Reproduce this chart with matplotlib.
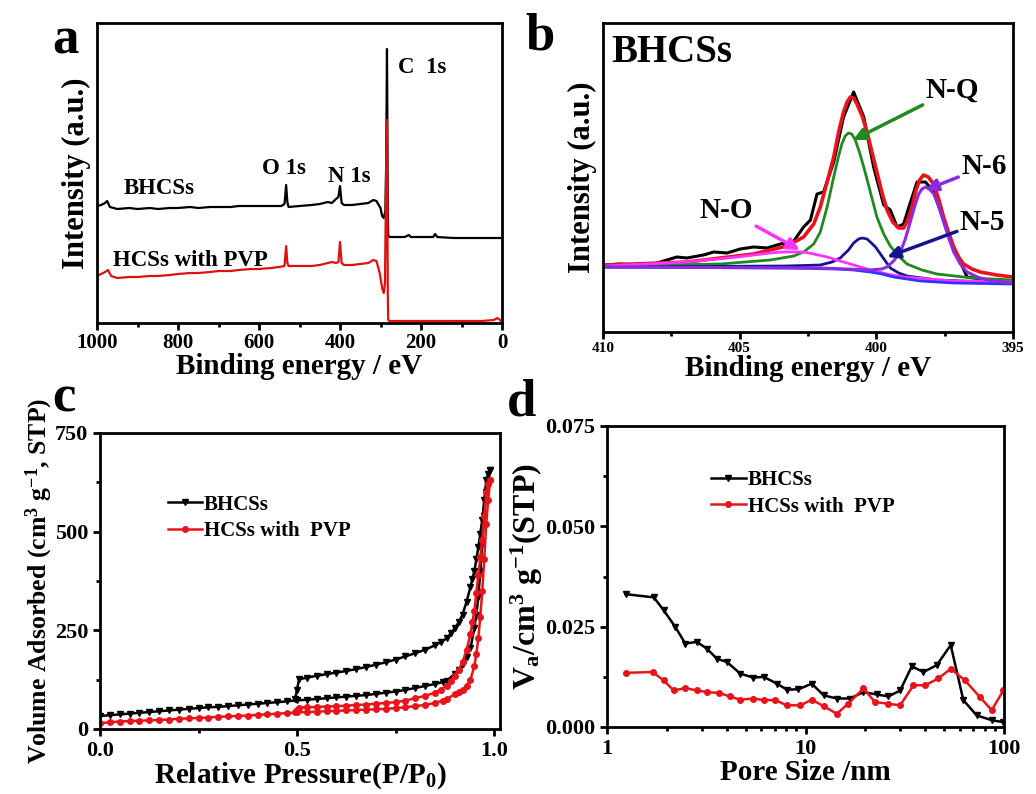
import matplotlib
matplotlib.use("Agg")
import matplotlib.pyplot as plt
from matplotlib.ticker import MultipleLocator, FixedLocator, LogLocator, NullFormatter

plt.rcParams['font.family'] = ['Liberation Serif', 'DejaVu Serif']
plt.rcParams['font.weight'] = 'bold'
plt.rcParams['axes.labelweight'] = 'bold'
plt.rcParams['mathtext.fontset'] = 'custom'
plt.rcParams['mathtext.rm'] = 'Liberation Serif:bold'
plt.rcParams['mathtext.it'] = 'Liberation Serif:bold:italic'
plt.rcParams['mathtext.bf'] = 'Liberation Serif:bold'

# ---------------- Panel a: XPS survey ----------------
a_be_black = [1000, 990, 980, 975, 968, 950, 920, 900, 870, 850, 820, 800, 770, 750, 720, 700, 670, 650, 620, 600,
              570, 545, 537, 533, 530, 527, 500, 470, 450, 430, 420, 410, 404, 400, 396, 390, 370, 350, 330, 318,
              310, 300, 296, 292, 288, 286, 284, 283, 282, 281, 278, 260, 240, 230, 225, 200, 170, 165, 160, 120,
              80, 40, 5]
a_int_black = [117, 118, 120, 122, 116, 114, 115, 114, 115, 114, 115, 115, 116, 115, 116, 116, 116, 117, 117, 117,
               117, 117, 119, 138, 121, 116, 117, 118, 119, 121, 120, 124, 126, 137, 120, 118, 118, 119, 120, 123,
               122, 115, 107, 105, 112, 160, 274, 200, 110, 88, 86, 86, 86, 88, 86, 86, 86, 89, 86, 85,
               85, 85, 85]
a_be_red = [1000, 990, 980, 973, 965, 950, 920, 900, 870, 850, 820, 800, 770, 750, 720, 700, 670, 650, 620, 600,
            570, 550, 537, 533, 530, 527, 500, 470, 450, 430, 420, 410, 404, 400, 396, 390, 370, 350, 330, 318,
            310, 302, 296, 292, 289, 286, 284, 283, 282, 281, 278, 250, 200, 150, 100, 50, 20, 12, 5, 2]
a_int_red = [47, 49, 51, 53, 47, 45, 46, 46, 47, 47, 48, 49, 50, 50, 51, 52, 52, 53, 54, 54,
             55, 56, 57, 77, 60, 57, 57, 57, 58, 60, 61, 60, 61, 81, 60, 58, 58, 59, 60, 63,
             62, 50, 35, 30, 40, 150, 203, 120, 30, 3, 2, 2, 2, 2, 2, 2, 3, 5, 3, 2]

# ---------------- Panel b: N 1s high resolution ----------------
b_be_raw = [409.91, 409.37, 408.76, 408.15, 407.66, 407.30, 406.93, 406.32, 405.95, 405.46, 404.98, 404.49, 404.00,
            403.51, 403.02, 402.66, 402.41, 402.17, 401.93, 401.56, 401.20, 400.83, 400.46, 400.10, 399.73, 399.49,
            399.24, 399.00, 398.82, 398.51, 398.20, 397.90, 397.54, 397.17, 396.68, 395.95, 395.00]
b_int_raw = [67, 68, 67, 68, 72, 75, 74, 77, 80, 79, 83, 85, 84, 88, 91, 105, 112, 138, 140, 170, 215, 240, 215, 165,
             127, 122, 105, 108, 124, 150, 150, 140, 112, 85, 55, 52, 50]
b_be_fit = [409.91, 406.93, 404.49, 403.27, 402.66, 402.29, 402.05, 401.80, 401.56, 401.38, 401.20, 401.07, 400.95,
            400.83, 400.71, 400.52, 400.34, 400.16, 399.98, 399.80, 399.61, 399.40, 399.18, 399.00, 398.88, 398.70,
            398.57, 398.42, 398.27, 398.10, 397.90, 397.72, 397.54, 397.35, 397.17, 396.99, 396.81, 396.50, 396.20,
            395.60, 395.00]
b_int_fit = [67, 70, 78, 86, 95, 108, 125, 150, 175, 200, 220, 230, 235, 234, 228, 216, 200, 180, 160, 140, 122, 110,
             104, 104, 110, 124, 140, 152, 157, 155, 148, 133, 115, 99, 85, 75, 68, 63, 60, 57, 55]
b_be_nq = [409.91, 405.71, 403.88, 403.02, 402.66, 402.29, 402.05, 401.80, 401.56, 401.38, 401.26, 401.14, 401.02,
           400.90, 400.77, 400.62, 400.46, 400.22, 399.98, 399.73, 399.49, 399.18, 398.88, 398.33, 397.78, 396.50,
           395.00]
b_int_nq = [66, 68, 72, 76, 80, 88, 100, 125, 155, 176, 188, 196, 199, 198, 192, 180, 165, 140, 115, 98, 86, 76, 68,
            62, 58, 54, 52]
b_be_n5 = [409.91, 403.27, 402.05, 401.62, 401.32, 401.02, 400.83, 400.65, 400.52, 400.34, 400.22, 400.03, 399.85,
           399.67, 399.49, 399.18, 398.88, 398.33, 397.78, 395.00]
b_int_n5 = [65, 66, 67, 70, 74, 82, 89, 93, 94, 93, 90, 85, 78, 71, 64, 59, 56, 54, 52, 49]
b_be_n6 = [409.91, 402.05, 400.22, 399.80, 399.61, 399.37, 399.12, 398.94, 398.76, 398.57, 398.45, 398.33, 398.20,
           398.06, 397.90, 397.72, 397.54, 397.35, 397.17, 396.93, 396.68, 396.30, 395.95, 395.00]
b_int_n6 = [65, 64, 62, 63, 65, 71, 80, 93, 110, 128, 138, 143, 145, 143, 138, 126, 110, 94, 80, 68, 60, 55, 52, 49]
b_be_no = [409.91, 406.93, 405.10, 404.49, 403.88, 403.45, 403.02, 402.66, 402.29, 401.80, 401.44, 400.83, 400.22,
           399.61, 399.00, 398.10, 397.17, 395.00]
b_int_no = [66, 70, 75, 77, 79, 80, 80, 80, 78, 75, 72, 67, 62, 58, 55, 53, 51, 50]
b_be_bg = [409.91, 403.27, 401.44, 400.83, 400.22, 399.80, 399.37, 398.88, 398.39, 397.78, 397.17, 395.00]
b_int_bg = [65, 64, 63, 62, 60, 58, 55, 53, 51, 50, 49, 48]

# ---------------- Panel c: N2 isotherms ----------------
c_p_ads = [0.0, 0.025, 0.05, 0.075, 0.1, 0.125, 0.15, 0.175, 0.2, 0.225, 0.25, 0.275, 0.3, 0.325, 0.35, 0.375,
           0.4, 0.425, 0.45, 0.475, 0.5, 0.525, 0.55, 0.575, 0.6, 0.625, 0.65, 0.675, 0.7, 0.725, 0.75, 0.775,
           0.8, 0.825, 0.85, 0.87, 0.88, 0.9, 0.91, 0.92, 0.93, 0.94, 0.95, 0.955, 0.96, 0.965, 0.97, 0.975,
           0.98, 0.985, 0.99]
c_bhcs_ads = [33, 35, 37, 39, 41, 43, 45, 47, 49, 51, 53, 55, 56, 58, 60, 62, 64, 66, 68, 70, 73, 74, 76, 78, 80,
              82, 84, 86, 89, 92, 95, 99, 104, 109, 114, 119, 122, 140, 150, 165, 183, 205, 255, 290, 335, 400,
              470, 540, 600, 630, 655]
c_pvp_ads = [15, 17, 19, 20, 21, 22, 23, 24, 26, 27, 28, 29, 31, 32, 33, 34, 36, 37, 39, 40, 42, 43, 44, 45, 46,
             47, 48, 49, 50, 51, 53, 55, 58, 61, 66, 72, 76, 88, 94, 100, 110, 125, 160, 190, 230, 285, 350, 430,
             520, 580, 630]
c_p_des = [0.99, 0.985, 0.98, 0.975, 0.97, 0.965, 0.96, 0.955, 0.95, 0.945, 0.94, 0.93, 0.92, 0.91, 0.9, 0.89,
           0.88, 0.865, 0.85, 0.825, 0.8, 0.775, 0.75, 0.725, 0.7, 0.675, 0.65, 0.625, 0.6, 0.575, 0.55, 0.525,
           0.505, 0.5, 0.495]
c_bhcs_des = [655, 645, 630, 580, 530, 495, 460, 430, 400, 380, 360, 322, 290, 270, 255, 242, 230, 220, 212, 201,
              192, 184, 176, 169, 163, 157, 152, 147, 143, 139, 135, 130, 126, 100, 75]
c_pvp_des = [630, 620, 600, 540, 480, 435, 390, 345, 300, 270, 240, 200, 170, 150, 135, 122, 110, 100, 92, 84,
             78, 72, 68, 66, 64, 62, 61, 59, 58, 57, 56, 55, 54, 48, 43]

# ---------------- Panel d: pore size distribution ----------------
d_size_bhcs = [1.24, 1.72, 1.93, 2.21, 2.48, 2.84, 3.19, 3.58, 4.02, 4.69, 5.47, 6.15, 7.18, 8.06, 9.22, 10.76,
               12.33, 14.38, 16.79, 19.59, 22.85, 26.17, 29.97, 34.3, 39.3, 45.8, 53.9, 62.4, 72.8, 86.7, 99.3]
d_va_bhcs = [0.0331, 0.0323, 0.0291, 0.0249, 0.0208, 0.0212, 0.0195, 0.0170, 0.0162, 0.0133, 0.0123, 0.0125,
             0.0108, 0.0093, 0.0094, 0.0108, 0.0079, 0.0071, 0.0071, 0.0087, 0.0081, 0.0076, 0.0091, 0.0151,
             0.0137, 0.0154, 0.0204, 0.0067, 0.0029, 0.0017, 0.0012]
d_size_pvp = [1.24, 1.70, 1.93, 2.17, 2.48, 2.84, 3.19, 3.65, 4.17, 4.69, 5.47, 6.15, 7.04, 8.06, 9.41, 10.76,
              12.33, 14.38, 16.4, 19.59, 22.4, 26.17, 29.97, 35.0, 40.1, 46.7, 53.9, 63.6, 75.5, 86.7, 99.3]
d_va_pvp = [0.0135, 0.0137, 0.0116, 0.0091, 0.0097, 0.0091, 0.0087, 0.0085, 0.0076, 0.0068, 0.0071, 0.0067,
            0.0067, 0.0054, 0.0054, 0.0068, 0.0052, 0.0033, 0.0058, 0.0096, 0.0062, 0.0058, 0.0054, 0.0104,
            0.0104, 0.0121, 0.0145, 0.0116, 0.0075, 0.0042, 0.0091]

W, H = 1036, 794
fig = plt.figure(figsize=(W / 100, H / 100), dpi=100)


def add_ax(l, r, t, b):
    return fig.add_axes([l / W, 1 - b / H, (r - l) / W, (b - t) / H])


def style(ax, lw=2.0):
    for s in ax.spines.values():
        s.set_linewidth(lw)


# ---- a ----
ax = add_ax(97, 502, 23, 323)
style(ax)
ax.plot(a_be_black, a_int_black, color='black', lw=1.6)
ax.plot(a_be_red, a_int_red, color='#e01010', lw=1.6)
ax.set_xlim(1000, 0)
ax.set_ylim(0, 300)
ax.set_yticks([])
ax.xaxis.set_major_locator(MultipleLocator(200))
ax.xaxis.set_minor_locator(MultipleLocator(100))
ax.tick_params(axis='x', which='both', direction='out', width=2, labelsize=15, pad=2)
ax.tick_params(axis='x', which='major', length=5)
ax.tick_params(axis='x', which='minor', length=3)
ax.set_xlabel('Binding energy / eV', fontsize=21, labelpad=0)
ax.set_ylabel('Intensity (a.u.)', fontsize=22, labelpad=4)
ax.text(933, 135, 'BHCSs', fontsize=16.5, va='center')
ax.text(960, 63, 'HCSs with PVP', fontsize=16.5, va='center')
ax.text(593, 154, 'O 1s', fontsize=16.5, va='center')
ax.text(430, 146, 'N 1s', fontsize=16.5, va='center')
ax.text(257, 255, 'C  1s', fontsize=16.5, va='center')

# ---- b ----
ax = add_ax(603, 1013, 23, 332)
style(ax)
ax.plot(b_be_raw, b_int_raw, color='black', lw=2.2)
ax.plot(b_be_fit, b_int_fit, color='#e8141c', lw=2.6)
ax.plot(b_be_nq, b_int_nq, color='#1f8a1f', lw=2.0)
ax.plot(b_be_n5, b_int_n5, color='#14148c', lw=2.0)
ax.plot(b_be_no, b_int_no, color='#ff33ff', lw=2.0)
ax.plot(b_be_bg, b_int_bg, color='#3333ff', lw=2.0)
ax.plot(b_be_n6, b_int_n6, color='#8a2be2', lw=2.2)
ax.set_xlim(410, 395)
ax.set_ylim(0, 309)
ax.set_yticks([])
ax.xaxis.set_major_locator(MultipleLocator(5))
ax.xaxis.set_minor_locator(MultipleLocator(2.5))
ax.tick_params(axis='x', which='both', direction='out', width=2, labelsize=11, pad=2)
ax.tick_params(axis='x', which='major', length=5)
ax.tick_params(axis='x', which='minor', length=3)
ax.set_xlabel('Binding energy / eV', fontsize=21, labelpad=0)
ax.set_ylabel('Intensity (a.u.)', fontsize=22, labelpad=4)
ax.text(409.7, 279, 'BHCSs', fontsize=28, va='center')
arrow_kw = dict(arrowstyle='-|>', lw=2.5, mutation_scale=18, shrinkA=0, shrinkB=0)
ax.annotate('N-Q', xy=(400.85, 192), xytext=(398.2, 242), fontsize=21, va='center', ha='left',
            arrowprops=dict(color='#1f8a1f', **arrow_kw))
ax.annotate('N-6', xy=(398.2, 142), xytext=(396.9, 165), fontsize=21, va='center', ha='left',
            arrowprops=dict(color='#8a2be2', **arrow_kw))
ax.annotate('N-5', xy=(399.6, 75), xytext=(396.95, 110), fontsize=21, va='center', ha='left',
            arrowprops=dict(color='#14148c', **arrow_kw))
ax.annotate('N-O', xy=(402.8, 82), xytext=(404.5, 122), fontsize=21, va='center', ha='right',
            arrowprops=dict(color='#ff33ff', **arrow_kw))

# ---- c ----
ax = add_ax(100, 500, 433, 729)
style(ax)
ax.plot(c_p_ads, c_bhcs_ads, color='black', lw=1.8, marker='v', ms=4, label='BHCSs')
ax.plot(c_p_des, c_bhcs_des, color='black', lw=1.8, marker='v', ms=4)
ax.plot(c_p_ads, c_pvp_ads, color='#e8141c', lw=1.8, marker='o', ms=4, label='HCSs with  PVP')
ax.plot(c_p_des, c_pvp_des, color='#e8141c', lw=1.8, marker='o', ms=4)
ax.set_xlim(0, 1.015)
ax.set_ylim(0, 750)
ax.xaxis.set_major_locator(FixedLocator([0.0, 0.5, 1.0]))
ax.xaxis.set_minor_locator(FixedLocator([0.25, 0.75]))
ax.yaxis.set_major_locator(MultipleLocator(250))
ax.yaxis.set_minor_locator(MultipleLocator(125))
ax.xaxis.set_major_formatter(matplotlib.ticker.FormatStrFormatter('%.1f'))
ax.tick_params(which='both', direction='out', width=2, labelsize=16)
ax.tick_params(which='major', length=5)
ax.tick_params(which='minor', length=3)
ax.set_xlabel('Relative Pressure(P/P$_0$)', fontsize=21, labelpad=0)
ax.set_ylabel('Volume Adsorbed (cm$^3$ g$^{-1}$, STP)', fontsize=18.5, labelpad=0)
ax.legend(loc='upper left', bbox_to_anchor=(0.15, 0.82), frameon=False, fontsize=15, handlelength=1.6,
          handletextpad=0.1, labelspacing=0.3, borderaxespad=0)

# ---- d ----
ax = add_ax(607, 1004, 426, 727)
style(ax)
ax.plot(d_size_bhcs, d_va_bhcs, color='black', lw=1.8, marker='v', ms=4, label='BHCSs')
ax.plot(d_size_pvp, d_va_pvp, color='#e8141c', lw=1.8, marker='o', ms=4, label='HCSs with  PVP')
ax.set_xscale('log')
ax.set_xlim(1, 100)
ax.set_ylim(0, 0.075)
ax.xaxis.set_major_locator(FixedLocator([1, 10, 100]))
ax.xaxis.set_major_formatter(matplotlib.ticker.FixedFormatter(['1', '10', '100']))
ax.xaxis.set_minor_locator(LogLocator(base=10, subs=range(2, 10)))
ax.xaxis.set_minor_formatter(NullFormatter())
ax.yaxis.set_major_locator(MultipleLocator(0.025))
ax.yaxis.set_minor_locator(MultipleLocator(0.0125))
ax.yaxis.set_major_formatter(matplotlib.ticker.FormatStrFormatter('%.3f'))
ax.tick_params(which='both', direction='out', width=2, labelsize=16)
ax.tick_params(which='major', length=5)
ax.tick_params(which='minor', length=3)
ax.set_xlabel('Pore Size /nm', fontsize=21, labelpad=0)
ax.set_ylabel('V$_\\mathrm{a}$/cm$^3$ g$^{-1}$(STP)', fontsize=23, labelpad=0)
ax.legend(loc='upper left', bbox_to_anchor=(0.24, 0.88), frameon=False, fontsize=15, handlelength=1.7,
          handletextpad=0.1, labelspacing=0.3, borderaxespad=0)

# ---- panel letters ----
for lbl, px, py in [('a', 65, 40), ('b', 540, 36), ('c', 64, 398), ('d', 522, 403)]:
    fig.text(px / W, 1 - py / H, lbl, fontsize=38, ha='center', va='center', fontweight='bold')

fig.savefig('out.png', dpi=100)
